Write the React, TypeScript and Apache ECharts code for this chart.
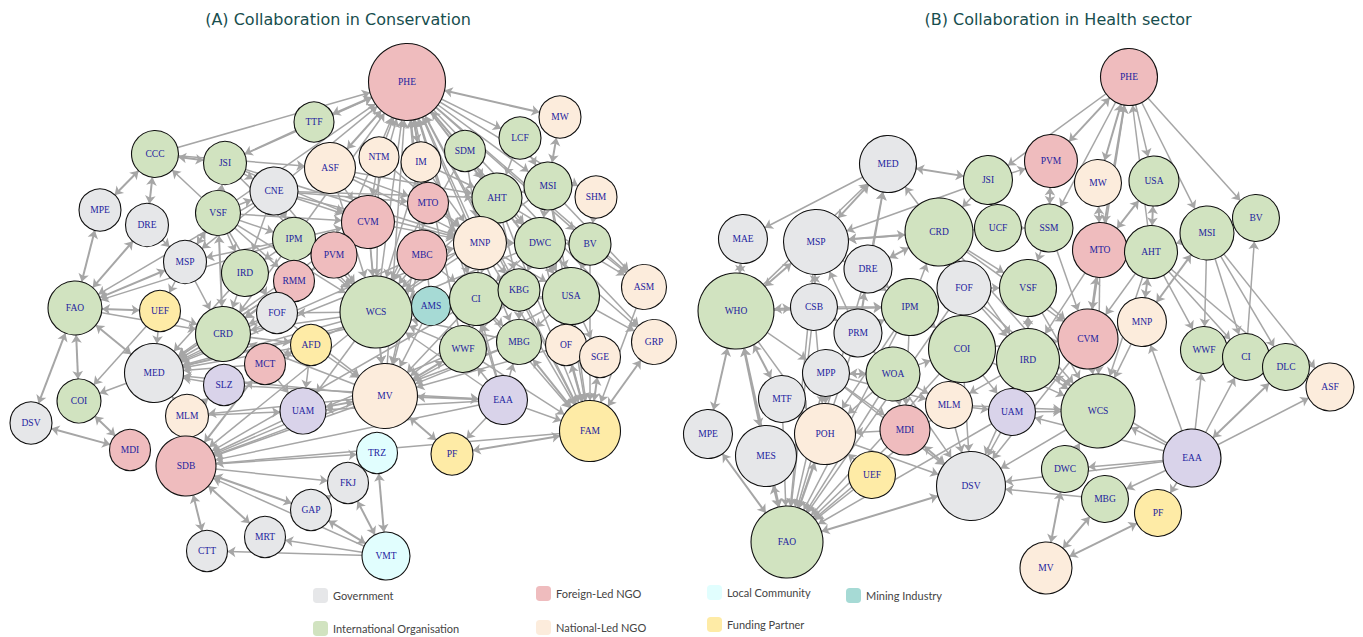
import React, { useEffect, useRef } from "react";
import * as echarts from "echarts";

const categoryNames = [
  "Government",
  "International Organisation",
  "Foreign-Led NGO",
  "National-Led NGO",
  "Local Community",
  "Funding Partner",
  "Mining Industry",
  "Other",
];
const categoryColors = ["#e6e7e9", "#d1e3c0", "#efbcbe", "#fcecdc", "#e1fefe", "#feeba6", "#a6dad5", "#d9d3ea"];

// [name, category index, x, y, diameter]
const nodesA: [string, number, number, number, number][] = [
  ["PHE", 2, 407, 82, 77], ["TTF", 1, 314, 122, 40], ["CCC", 1, 155, 154, 47], ["JSI", 1, 225, 163, 43],
  ["ASF", 3, 330, 168, 51], ["NTM", 3, 379, 157, 40], ["IM", 3, 421, 162, 40], ["SDM", 1, 465, 151, 41],
  ["LCF", 1, 520, 138, 42], ["MW", 3, 560, 117, 42], ["CNE", 0, 274, 191, 48], ["MPE", 0, 100, 210, 42],
  ["DRE", 0, 147, 225, 43], ["VSF", 1, 218, 213, 45], ["MSI", 1, 548, 186, 48], ["SHM", 3, 596, 197, 42],
  ["AHT", 1, 497, 198, 50], ["MTO", 2, 428, 203, 41], ["CVM", 2, 368, 222, 53], ["IPM", 1, 294, 239, 43],
  ["PVM", 2, 334, 255, 46], ["MNP", 3, 480, 243, 53], ["DWC", 1, 540, 243, 51], ["BV", 1, 590, 244, 42],
  ["MBC", 2, 422, 255, 50], ["MSP", 0, 185, 262, 43], ["IRD", 1, 245, 273, 47], ["RMM", 2, 294, 281, 41],
  ["ASM", 3, 644, 287, 45], ["FAO", 1, 75, 308, 54], ["UEF", 5, 160, 311, 41], ["FOF", 0, 277, 313, 41],
  ["WCS", 1, 376, 312, 72], ["AMS", 6, 431, 306, 39], ["CI", 1, 476, 299, 53], ["KBG", 1, 519, 290, 42],
  ["USA", 1, 571, 296, 57], ["CRD", 1, 223, 334, 55], ["AFD", 5, 311, 345, 41], ["MCT", 2, 265, 364, 41],
  ["MED", 0, 154, 373, 59], ["SLZ", 7, 224, 385, 41], ["WWF", 1, 463, 349, 47], ["MBG", 1, 519, 342, 45],
  ["OF", 3, 566, 345, 41], ["SGE", 3, 600, 357, 41], ["GRP", 3, 654, 342, 45], ["COI", 1, 79, 401, 44],
  ["UAM", 7, 303, 411, 46], ["MLM", 3, 187, 416, 43], ["MV", 3, 385, 396, 65], ["EAA", 7, 503, 400, 49],
  ["DSV", 0, 31, 423, 42], ["FAM", 5, 590, 431, 61], ["MDI", 2, 130, 450, 41], ["TRZ", 4, 377, 453, 41],
  ["PF", 5, 452, 454, 42], ["SDB", 2, 186, 466, 60], ["FKJ", 0, 348, 483, 41], ["GAP", 0, 311, 510, 41],
  ["MRT", 0, 265, 537, 41], ["CTT", 0, 207, 551, 41], ["VMT", 4, 386, 556, 48],
];

const nodesB: [string, number, number, number, number][] = [
  ["PHE", 2, 1129, 77, 57], ["MED", 0, 888, 164, 57], ["JSI", 1, 988, 180, 49], ["PVM", 2, 1051, 161, 53],
  ["MW", 3, 1098, 183, 47], ["USA", 1, 1154, 181, 50], ["BV", 1, 1256, 218, 47], ["MSI", 1, 1207, 233, 54],
  ["SSM", 1, 1049, 228, 48], ["UCF", 1, 998, 228, 47], ["CRD", 1, 939, 232, 68], ["MAE", 0, 743, 239, 49],
  ["MSP", 0, 816, 242, 65], ["MTO", 2, 1100, 250, 55], ["AHT", 1, 1151, 252, 53], ["DRE", 0, 868, 269, 48],
  ["FOF", 0, 964, 288, 54], ["VSF", 1, 1028, 288, 57], ["WHO", 1, 736, 311, 76], ["CSB", 0, 814, 307, 47],
  ["IPM", 1, 910, 307, 57], ["PRM", 0, 858, 333, 48], ["MNP", 3, 1142, 322, 49], ["CVM", 2, 1088, 339, 60],
  ["COI", 1, 962, 349, 67], ["IRD", 1, 1028, 360, 63], ["WWF", 1, 1204, 350, 47], ["CI", 1, 1246, 357, 47],
  ["DLC", 1, 1286, 367, 47], ["ASF", 3, 1330, 387, 48], ["MPP", 0, 826, 373, 47], ["WOA", 1, 893, 374, 54],
  ["MTF", 0, 782, 399, 47], ["MLM", 3, 949, 405, 47], ["UAM", 7, 1012, 412, 47], ["WCS", 1, 1098, 411, 74],
  ["MPE", 0, 708, 434, 49], ["POH", 3, 825, 434, 61], ["MDI", 2, 905, 430, 50], ["MES", 0, 766, 456, 61],
  ["EAA", 7, 1192, 458, 58], ["DWC", 1, 1065, 469, 47], ["UEF", 5, 872, 475, 47], ["DSV", 0, 971, 486, 69],
  ["MBG", 1, 1105, 499, 47], ["PF", 5, 1158, 513, 47], ["FAO", 1, 787, 542, 72], ["MV", 3, 1046, 568, 52],
];

// [source, target, 1 = one-way, 2 = both ways]
const linksA: [string, string, number][] = [
  ["CCC", "PHE", 1], ["TTF", "PHE", 2], ["JSI", "PHE", 1], ["ASF", "PHE", 2], ["NTM", "PHE", 1], ["IM", "PHE", 2],
  ["CNE", "PHE", 1], ["VSF", "PHE", 1], ["CVM", "PHE", 1], ["MTO", "PHE", 1], ["MBC", "PHE", 1], ["WCS", "PHE", 1],
  ["PVM", "PHE", 1], ["IPM", "PHE", 1], ["SDM", "PHE", 1], ["AMS", "PHE", 1], ["MV", "PHE", 1], ["WWF", "PHE", 1],
  ["CI", "PHE", 2], ["MNP", "PHE", 1], ["KBG", "PHE", 1], ["EAA", "PHE", 1],
  ["PHE", "MW", 2], ["PHE", "LCF", 1], ["PHE", "MSI", 1], ["PHE", "SHM", 1], ["PHE", "BV", 1], ["PHE", "ASM", 1],
  ["PHE", "AHT", 1], ["PHE", "DWC", 1], ["PHE", "USA", 1], ["PHE", "GRP", 1], ["PHE", "FAM", 1], ["PHE", "MBG", 1],
  ["TTF", "JSI", 1], ["JSI", "CCC", 2], ["CCC", "ASF", 1], ["MPE", "CCC", 2], ["DRE", "CCC", 2], ["VSF", "CCC", 1],
  ["VSF", "JSI", 1], ["JSI", "CNE", 1], ["JSI", "MNP", 1],
  ["MW", "MSI", 2], ["LCF", "MSI", 1], ["SHM", "BV", 1], ["BV", "ASM", 1], ["MSI", "ASM", 1], ["AHT", "ASM", 1],
  ["ASM", "FAM", 1], ["USA", "GRP", 1], ["DWC", "GRP", 1], ["GRP", "FAM", 2], ["SGE", "FAM", 2], ["OF", "FAM", 2],
  ["MPE", "FAO", 2], ["DRE", "FAO", 2], ["MSP", "FAO", 2], ["CNE", "FAO", 1], ["IPM", "FAO", 1], ["FAO", "UEF", 2],
  ["FAO", "COI", 2], ["FAO", "DSV", 2], ["FAO", "MED", 2], ["FAO", "CRD", 1], ["DRE", "MSP", 1], ["VSF", "MSP", 2],
  ["CNE", "MSP", 1], ["IPM", "MSP", 1], ["MSP", "CRD", 1], ["MSP", "UEF", 1], ["VSF", "CRD", 2], ["VSF", "IRD", 1],
  ["VSF", "RMM", 1], ["VSF", "FOF", 1], ["VSF", "IPM", 1], ["VSF", "CNE", 1], ["VSF", "WCS", 1], ["VSF", "CVM", 1],
  ["IRD", "CRD", 1], ["FOF", "CRD", 1], ["UEF", "CRD", 1], ["RMM", "CRD", 1], ["IPM", "CRD", 1], ["UEF", "COI", 1],
  ["UEF", "MED", 1], ["MED", "COI", 1], ["COI", "MDI", 2], ["DSV", "MDI", 2], ["CNE", "IRD", 1], ["CNE", "IPM", 1],
  ["IPM", "IRD", 1], ["RMM", "FOF", 1],
  ["CRD", "MED", 1], ["FOF", "MED", 1], ["RMM", "MED", 1], ["IRD", "MED", 1], ["AFD", "MED", 1], ["MCT", "MED", 1],
  ["WCS", "MED", 1], ["PVM", "MED", 1], ["CVM", "MED", 1], ["MV", "MED", 1], ["MNP", "MED", 1], ["CI", "MED", 1],
  ["SLZ", "MED", 1], ["MLM", "MED", 1], ["AMS", "MED", 1], ["MBC", "MED", 1],
  ["CNE", "CVM", 1], ["CNE", "MTO", 1], ["CNE", "MNP", 1], ["CNE", "AHT", 1], ["CNE", "WCS", 1], ["ASF", "MTO", 1],
  ["ASF", "CVM", 1], ["ASF", "WCS", 1], ["ASF", "MNP", 1], ["ASF", "AHT", 1], ["NTM", "CVM", 1], ["NTM", "WCS", 1],
  ["NTM", "MNP", 1], ["IM", "MNP", 1], ["IM", "WCS", 1], ["IM", "AHT", 1], ["SDM", "AHT", 1], ["SDM", "MNP", 1],
  ["SDM", "WCS", 1], ["JSI", "CVM", 1], ["JSI", "WCS", 1], ["IPM", "WCS", 1], ["IPM", "CVM", 1], ["PVM", "WCS", 1],
  ["PVM", "CRD", 1], ["CVM", "WCS", 1], ["CVM", "MV", 1], ["CVM", "MNP", 1], ["MTO", "WCS", 1], ["MTO", "MNP", 1],
  ["MTO", "MV", 1], ["MBC", "WCS", 1], ["MBC", "MV", 1], ["MBC", "CI", 1], ["MBC", "MNP", 1], ["MNP", "CI", 1],
  ["MNP", "WCS", 1], ["MNP", "KBG", 1], ["MNP", "DWC", 1], ["MNP", "USA", 1], ["MNP", "FAM", 1], ["AHT", "MNP", 1],
  ["AHT", "CI", 1], ["AHT", "DWC", 1], ["AHT", "KBG", 1], ["AHT", "USA", 1], ["AHT", "WCS", 1], ["AHT", "FAM", 1],
  ["MSI", "AHT", 1], ["MSI", "DWC", 1], ["MSI", "USA", 1], ["MSI", "WCS", 1], ["MSI", "FAM", 1], ["DWC", "CI", 1],
  ["DWC", "KBG", 1], ["DWC", "FAM", 1], ["DWC", "USA", 1], ["DWC", "WCS", 1], ["BV", "USA", 1], ["BV", "FAM", 1],
  ["BV", "DWC", 1], ["LCF", "AHT", 1], ["CI", "WCS", 2], ["CI", "MV", 1], ["CI", "MBG", 1], ["CI", "FAM", 1],
  ["CI", "WWF", 1], ["KBG", "CI", 1], ["KBG", "FAM", 1], ["KBG", "MBG", 1], ["KBG", "WWF", 1], ["KBG", "MV", 1],
  ["USA", "FAM", 1], ["USA", "WCS", 1], ["USA", "CI", 1], ["USA", "MV", 1], ["USA", "OF", 1], ["USA", "SGE", 1],
  ["USA", "MBG", 1], ["AMS", "WCS", 1], ["AMS", "MV", 1], ["WCS", "CRD", 1], ["WCS", "SDB", 1], ["WCS", "MV", 1],
  ["WCS", "FOF", 1], ["WCS", "MCT", 1], ["WCS", "UAM", 1], ["WWF", "MV", 2], ["WWF", "FAM", 1], ["WWF", "SDB", 1],
  ["WWF", "WCS", 1], ["MBG", "MV", 1], ["MBG", "FAM", 2], ["MBG", "WCS", 1], ["MBG", "SDB", 1], ["OF", "MV", 1],
  ["EAA", "MV", 2], ["EAA", "PF", 1], ["EAA", "FAM", 1], ["EAA", "WWF", 1], ["EAA", "MBG", 1], ["EAA", "SDB", 1],
  ["EAA", "UAM", 1], ["EAA", "WCS", 1], ["EAA", "CI", 1], ["PF", "FAM", 2], ["MV", "PF", 2], ["MV", "SDB", 1],
  ["MV", "UAM", 2], ["MV", "CRD", 1], ["MV", "MLM", 1], ["UAM", "SDB", 1], ["FAM", "SDB", 1], ["CI", "SDB", 1],
  ["FOF", "MV", 1], ["AFD", "MV", 1], ["CRD", "AFD", 1], ["SDB", "TRZ", 1], ["SDB", "FKJ", 1], ["SDB", "GAP", 2],
  ["SDB", "MRT", 2], ["SDB", "CTT", 2], ["VMT", "SDB", 1], ["VMT", "MRT", 1], ["VMT", "CTT", 1], ["VMT", "GAP", 2],
  ["VMT", "FKJ", 2], ["VMT", "TRZ", 2], ["SDB", "MCT", 2], ["MLM", "SLZ", 1], ["MLM", "UAM", 1], ["MCT", "UAM", 1],
  ["MCT", "AFD", 1], ["SLZ", "EAA", 1], ["AFD", "UAM", 1], ["TRZ", "FKJ", 1], ["GAP", "FKJ", 1],
];

const linksB: [string, string, number][] = [
  ["PHE", "PVM", 2], ["PHE", "JSI", 1], ["PHE", "MW", 2], ["PHE", "USA", 1], ["PHE", "MSI", 1], ["PHE", "BV", 1],
  ["PHE", "SSM", 1], ["PHE", "MTO", 2], ["CVM", "PHE", 1], ["AHT", "PHE", 1],
  ["JSI", "PVM", 1], ["PVM", "SSM", 2], ["MW", "MTO", 2], ["MTO", "USA", 2], ["USA", "AHT", 2], ["MTO", "CVM", 2],
  ["SSM", "CVM", 1], ["SSM", "VSF", 1], ["UCF", "SSM", 1], ["MSI", "AHT", 1], ["MNP", "AHT", 2], ["MNP", "MSI", 2],
  ["MNP", "WCS", 1], ["EAA", "MNP", 1], ["AHT", "WWF", 1], ["AHT", "CI", 1], ["AHT", "DLC", 1], ["MSI", "DLC", 1],
  ["MSI", "ASF", 1], ["MSI", "CI", 1], ["CI", "BV", 1], ["EAA", "WWF", 1], ["EAA", "CI", 1], ["EAA", "DLC", 2],
  ["EAA", "ASF", 1], ["EAA", "WCS", 1], ["EAA", "DWC", 1], ["EAA", "MBG", 1], ["EAA", "PF", 1], ["EAA", "DSV", 1],
  ["EAA", "IRD", 1], ["EAA", "UAM", 1], ["MV", "DWC", 2], ["MV", "MBG", 2], ["MV", "PF", 2],
  ["MED", "JSI", 2], ["MED", "MAE", 1], ["MSP", "MED", 2], ["DRE", "MED", 1], ["PRM", "MED", 1], ["CRD", "MED", 1],
  ["JSI", "MSP", 1], ["JSI", "CRD", 1], ["UCF", "MSP", 1], ["CRD", "MSP", 2], ["CRD", "DRE", 2], ["CRD", "IRD", 1],
  ["CRD", "VSF", 1], ["CRD", "WCS", 1], ["CRD", "CVM", 1],
  ["MAE", "WHO", 2], ["WHO", "MSP", 2], ["WHO", "CSB", 2], ["WHO", "MPE", 2], ["WHO", "MES", 2], ["WHO", "FAO", 2],
  ["WHO", "MTF", 2], ["WHO", "POH", 1], ["WHO", "MPP", 1], ["CSB", "MSP", 2], ["CSB", "IPM", 1], ["CSB", "POH", 1],
  ["CSB", "FAO", 1], ["PRM", "MSP", 1], ["PRM", "DRE", 1], ["PRM", "IPM", 1], ["PRM", "FAO", 1], ["MPP", "POH", 1],
  ["MPP", "WOA", 2], ["MPP", "FAO", 1], ["MPP", "DSV", 1], ["MTF", "POH", 1], ["MTF", "FAO", 1], ["MPE", "FAO", 2],
  ["MES", "FAO", 2], ["POH", "FAO", 2], ["POH", "DSV", 1], ["MDI", "POH", 1], ["UEF", "FAO", 1], ["DSV", "FAO", 2],
  ["MDI", "DSV", 2], ["MDI", "FAO", 1], ["MLM", "DSV", 1], ["MLM", "UAM", 1], ["MLM", "WCS", 1], ["MLM", "FAO", 1],
  ["WOA", "DSV", 1], ["WOA", "FAO", 1], ["WOA", "POH", 1], ["WOA", "COI", 1], ["WOA", "MLM", 1], ["COI", "DSV", 1],
  ["COI", "WCS", 1], ["COI", "FAO", 1], ["IPM", "COI", 1], ["IRD", "WCS", 1], ["IRD", "DSV", 1], ["VSF", "IRD", 2],
  ["CVM", "IRD", 1], ["UAM", "WCS", 1], ["UAM", "DSV", 1], ["UAM", "FAO", 1], ["IPM", "CRD", 1], ["IPM", "FAO", 1],
  ["IPM", "POH", 1], ["FOF", "CRD", 1], ["FOF", "WCS", 1], ["FOF", "FAO", 1], ["FOF", "IRD", 1], ["VSF", "CVM", 1],
  ["VSF", "WCS", 1], ["CVM", "WCS", 1], ["CVM", "DSV", 1], ["COI", "CVM", 1], ["FOF", "VSF", 1], ["MSP", "IPM", 1],
  ["DRE", "IPM", 1], ["CSB", "PRM", 1], ["MPP", "MLM", 1], ["WHO", "IPM", 1], ["MES", "POH", 1], ["MPP", "MDI", 1],
  ["PRM", "WOA", 1], ["COI", "MLM", 1], ["IRD", "MLM", 1], ["WCS", "DSV", 1], ["DWC", "WCS", 1], ["AHT", "WCS", 1],
  ["AHT", "CVM", 1], ["MTO", "WCS", 1], ["MTO", "IRD", 1], ["UEF", "POH", 1], ["IPM", "MDI", 1], ["WOA", "MDI", 1],
  ["COI", "UAM", 1], ["MSI", "WWF", 1], ["WHO", "MED", 1], ["MSP", "FAO", 1], ["DRE", "FAO", 1], ["POH", "WOA", 1],
  ["MBG", "DSV", 1], ["MNP", "CVM", 1],
];

function buildSeries(nodes: [string, number, number, number, number][], links: [string, string, number][]) {
  const names = new Set(nodes.map((n) => n[0]));
  const seen = new Set<string>();
  const linkData: any[] = [];
  links.forEach(([s, t, d]) => {
    if (!names.has(s) || !names.has(t)) return;
    const key = [s, t].sort().join("|");
    if (seen.has(key)) return;
    seen.add(key);
    linkData.push({
      source: s,
      target: t,
      symbol: d === 2 ? ["arrow", "arrow"] : ["none", "arrow"],
      lineStyle: { width: d === 2 ? 2 : 1.5 },
    });
  });
  return {
    type: "graph",
    coordinateSystem: "cartesian2d",
    xAxisIndex: 0,
    yAxisIndex: 0,
    symbol: "circle",
    data: nodes.map(([name, cat, x, y, d]) => ({ name, value: [x, y], symbolSize: d, category: cat })),
    links: linkData,
    categories: categoryNames.map((name, i) => ({ name, itemStyle: { color: categoryColors[i] } })),
    itemStyle: { borderColor: "#111111", borderWidth: 1.1 },
    label: {
      show: true,
      position: "inside",
      color: "#22229e",
      fontFamily: "Liberation Serif",
      fontSize: 9.5,
    },
    edgeSymbol: ["none", "arrow"],
    edgeSymbolSize: 8,
    lineStyle: { color: "#a6a6a6", width: 1.5, opacity: 1, curveness: 0 },
    emphasis: { disabled: true },
    silent: true,
  };
}

const legendText = { fontFamily: "Lato", fontSize: 11, color: "#444444" };
function legend(names: string[], left: number, top: number, gap: number) {
  return {
    data: names,
    orient: "vertical",
    left,
    top,
    itemGap: gap,
    itemWidth: 15,
    itemHeight: 15,
    icon: "roundRect",
    itemStyle: { borderWidth: 0 },
    textStyle: legendText,
    selectedMode: false,
    padding: 0,
  };
}

export default function App() {
  const ref = useRef<HTMLDivElement>(null);
  useEffect(() => {
    if (!ref.current) return;
    const chart = echarts.init(ref.current, undefined, { renderer: "svg" });
    chart.setOption({
      animation: false,
      backgroundColor: "#ffffff",
      grid: { left: 0, right: 0, top: 0, bottom: 0 },
      xAxis: { type: "value", min: 0, max: 1363, show: false },
      yAxis: { type: "value", min: 0, max: 637, inverse: true, show: false },
      legend: [
        legend(["Government", "International Organisation"], 313, 588, 18),
        legend(["Foreign-Led NGO", "National-Led NGO"], 536, 586, 19),
        legend(["Local Community", "Funding Partner"], 707, 585, 17),
        legend(["Mining Industry"], 846, 588, 17),
      ],
      graphic: [
        {
          type: "text",
          x: 338,
          y: 19,
          style: {
            text: "(A) Collaboration in Conservation",
            fill: "#174e4e",
            font: "16px 'DejaVu Sans'",
            textAlign: "center",
            textVerticalAlign: "middle",
          },
        },
        {
          type: "text",
          x: 1058,
          y: 19,
          style: {
            text: "(B) Collaboration in Health sector",
            fill: "#174e4e",
            font: "16px 'DejaVu Sans'",
            textAlign: "center",
            textVerticalAlign: "middle",
          },
        },
      ],
      series: [buildSeries(nodesA, linksA), buildSeries(nodesB, linksB)],
    });
    return () => chart.dispose();
  }, []);
  return <div ref={ref} style={{ position: "absolute", left: 0, top: 0, width: 1363, height: 637 }} />;
}
